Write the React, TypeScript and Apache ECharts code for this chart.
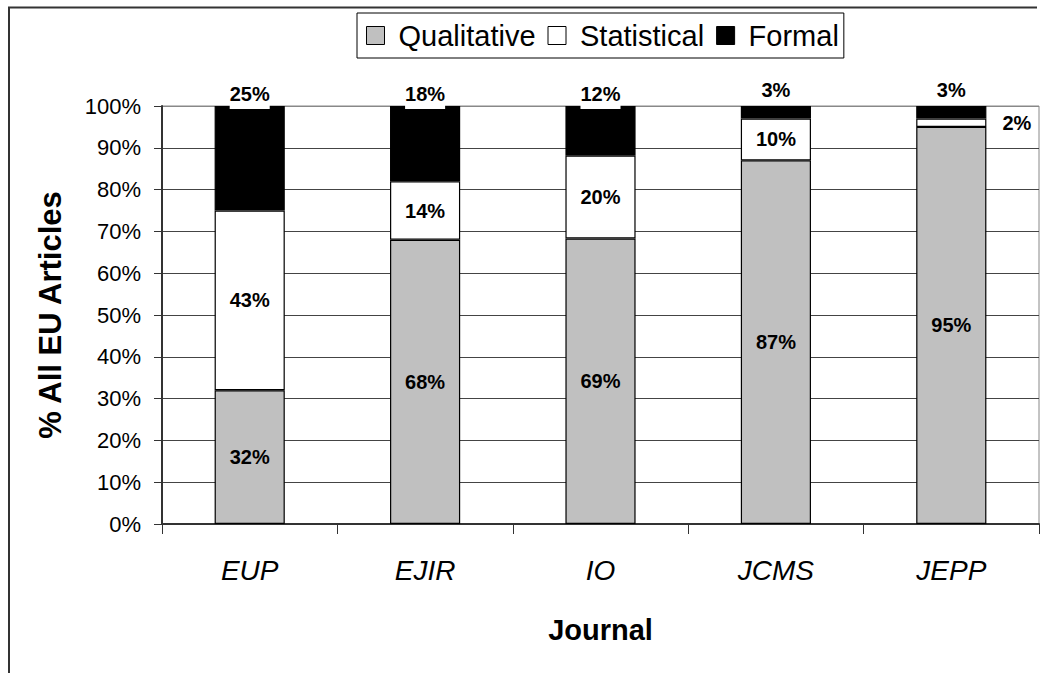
import React, { useEffect, useRef } from "react";
import * as echarts from "echarts";

const categories = ["EUP", "EJIR", "IO", "JCMS", "JEPP"];
const qualitative = [32, 68, 69, 87, 95];
const statistical = [43, 14, 20, 10, 2];
const formal = [25, 18, 12, 3, 3];
const yTicks = [0, 10, 20, 30, 40, 50, 60, 70, 80, 90, 100];

const FONT = "'Liberation Sans', Arial, sans-serif";

export default function App() {
  const ref = useRef<HTMLDivElement>(null);

  useEffect(() => {
    if (!ref.current) return;
    const chart = echarts.init(ref.current, null, { renderer: "svg" });
    const totals = categories.map((_, i) => qualitative[i] + statistical[i] + formal[i]);
    const pct = (arr: number[]) => arr.map((v, i) => (v / totals[i]) * 100);

    const labelBase = {
      show: true,
      fontFamily: FONT,
      fontWeight: "bold" as const,
      fontSize: 20,
      color: "#000",
    };
    const barStyle = (color: string) => ({
      color,
      borderColor: "#000",
      borderWidth: 1.2,
    });

    const qualData = pct(qualitative).map((v) => ({ value: v }));
    const statData = pct(statistical).map((v, i) =>
      statistical[i] < 5
        ? { value: v, label: { position: "right", distance: 16 } }
        : { value: v }
    );
    const formData = pct(formal).map((v, i) =>
      formal[i] < 5
        ? {
            value: v,
            label: { distance: 6, backgroundColor: "transparent", padding: 0 },
          }
        : { value: v }
    );

    const gridColors = yTicks.map((t) => (t === 100 ? "#888" : "#444"));

    chart.setOption({
      animation: false,
      backgroundColor: "#fff",
      textStyle: { fontFamily: FONT },
      legend: {
        left: 357,
        top: 13,
        orient: "horizontal",
        icon: "rect",
        itemWidth: 18,
        itemHeight: 18,
        itemGap: 12,
        padding: [8, 5, 8, 9],
        borderColor: "#000",
        borderWidth: 1,
        backgroundColor: "#fff",
        itemStyle: { borderColor: "#000", borderWidth: 1 },
        textStyle: {
          fontFamily: FONT,
          fontSize: 29,
          color: "#000",
          padding: [0, 0, 0, 9],
        },
        data: ["Qualitative", "Statistical", "Formal"],
      },
      grid: {
        left: 162,
        top: 106,
        right: 5,
        bottom: 149,
        show: true,
        borderColor: "#888",
        borderWidth: 1,
        backgroundColor: "transparent",
      },
      xAxis: {
        type: "category",
        data: categories,
        boundaryGap: true,
        name: "Journal",
        nameLocation: "middle",
        nameGap: 91,
        nameTextStyle: {
          fontFamily: FONT,
          fontSize: 29,
          fontWeight: "bold",
          color: "#000",
        },
        axisLine: { lineStyle: { color: "#333", width: 2 } },
        axisTick: { show: true, length: 10, inside: false, lineStyle: { color: "#333", width: 1 } },
        axisLabel: {
          fontFamily: FONT,
          fontSize: 28,
          fontStyle: "italic",
          color: "#000",
          margin: 32,
        },
      },
      yAxis: {
        type: "value",
        min: 0,
        max: 100,
        interval: 10,
        name: "% All EU Articles",
        nameLocation: "middle",
        nameRotate: 90,
        nameGap: 96,
        nameTextStyle: {
          fontFamily: FONT,
          fontSize: 31,
          fontWeight: "bold",
          color: "#000",
        },
        axisLine: { show: true, lineStyle: { color: "#333", width: 2 } },
        axisTick: { show: true, length: 8, lineStyle: { color: "#333", width: 1 } },
        axisLabel: {
          fontFamily: FONT,
          fontSize: 22,
          color: "#000",
          margin: 21,
          formatter: "{value}%",
        },
        splitLine: { show: true, lineStyle: { color: gridColors, width: 1 } },
      },
      series: [
        {
          name: "Qualitative",
          type: "bar",
          stack: "total",
          barWidth: "40%",
          itemStyle: barStyle("#C0C0C0"),
          label: {
            ...labelBase,
            position: "inside",
            formatter: (p: any) => `${qualitative[p.dataIndex]}%`,
          },
          data: qualData,
        },
        {
          name: "Statistical",
          type: "bar",
          stack: "total",
          barWidth: "40%",
          itemStyle: barStyle("#FFFFFF"),
          label: {
            ...labelBase,
            position: "inside",
            formatter: (p: any) => `${statistical[p.dataIndex]}%`,
          },
          data: statData,
        },
        {
          name: "Formal",
          type: "bar",
          stack: "total",
          barWidth: "40%",
          itemStyle: barStyle("#000000"),
          label: {
            ...labelBase,
            position: "top",
            distance: -3,
            backgroundColor: "#fff",
            padding: [0, 0, 5, 0],
            formatter: (p: any) => `${formal[p.dataIndex]}%`,
          },
          data: formData,
        },
      ],
      graphic: [
        {
          type: "polyline",
          silent: true,
          z: 100,
          shape: {
            points: [
              [9, 673],
              [9, 7.5],
              [1037, 7.5],
            ],
          },
          style: { stroke: "#333", lineWidth: 2, fill: "none" },
        },
      ],
    });

    return () => {
      chart.dispose();
    };
  }, []);

  return (
    <div
      ref={ref}
      style={{ position: "fixed", left: 0, top: 0, width: 1044, height: 673 }}
    />
  );
}
